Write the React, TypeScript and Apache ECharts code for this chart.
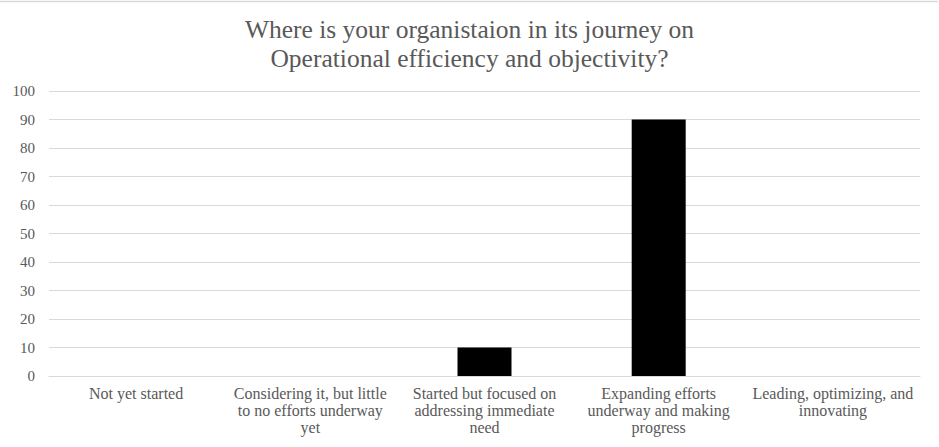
import React, { useEffect, useRef } from "react";
import * as echarts from "echarts";

const titleText = "Where is your organistaion in its journey on\nOperational efficiency and objectivity?";
const categories = [
  "Not yet started",
  "Considering it, but little\nto no efforts underway\nyet",
  "Started but focused on\naddressing immediate\nneed",
  "Expanding efforts\nunderway and making\nprogress",
  "Leading, optimizing, and\ninnovating",
];
const values = [0, 0, 10, 90, 0];
const yMin = 0;
const yMax = 100;
const yInterval = 10;

const FONT = "'Liberation Serif', 'Times New Roman', serif";
const TEXT = "#595959";

export default function App() {
  const ref = useRef<HTMLDivElement>(null);
  useEffect(() => {
    document.body.style.margin = "0";
    const chart = echarts.init(ref.current!, null, { renderer: "svg" });
    chart.setOption({
      animation: false,
      backgroundColor: "#ffffff",
      graphic: [
        {
          type: "line",
          shape: { x1: 0, y1: 1.5, x2: 938, y2: 1.5 },
          style: { stroke: "#d9d9d9", lineWidth: 1.5 },
        },
      ],
      title: {
        text: titleText,
        left: "center",
        top: 10,
        textStyle: {
          fontFamily: FONT,
          fontSize: 25.5,
          fontWeight: "normal",
          color: TEXT,
          lineHeight: 29,
        },
      },
      grid: { left: 49, right: 19, top: 91, bottom: 71, containLabel: false },
      xAxis: {
        type: "category",
        data: categories,
        axisLine: { show: true, lineStyle: { color: "#d9d9d9", width: 1 } },
        axisTick: { show: false },
        axisLabel: {
          interval: 0,
          fontFamily: FONT,
          fontSize: 16,
          color: TEXT,
          lineHeight: 17,
          margin: 9,
        },
      },
      yAxis: {
        type: "value",
        min: yMin,
        max: yMax,
        interval: yInterval,
        axisLine: { show: false },
        axisTick: { show: false },
        splitLine: { lineStyle: { color: "#d9d9d9", width: 1 } },
        axisLabel: {
          fontFamily: FONT,
          fontSize: 15,
          color: TEXT,
          margin: 14,
        },
      },
      series: [
        {
          type: "bar",
          data: values,
          barWidth: "31%",
          itemStyle: { color: "#000000" },
        },
      ],
    });
    return () => chart.dispose();
  }, []);
  return <div ref={ref} style={{ width: 939, height: 447 }} />;
}
